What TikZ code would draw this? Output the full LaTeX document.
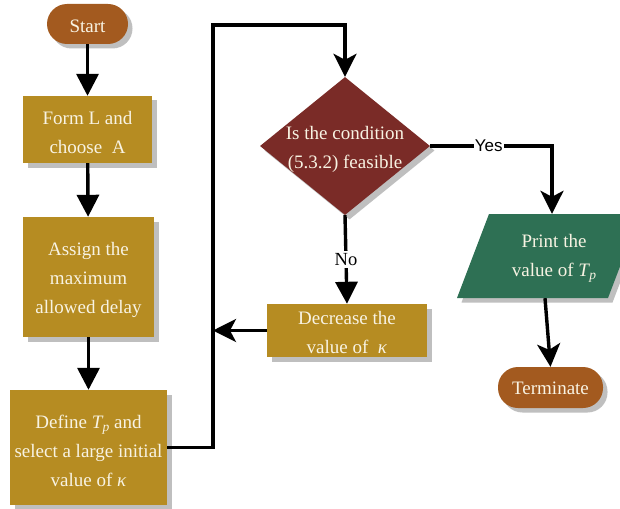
\documentclass[tikz,border=0pt]{standalone}
\usepackage{fontspec}
\setmainfont{Liberation Serif}
\newfontfamily\sansf{Liberation Sans}
\usetikzlibrary{shapes.geometric,shadows,arrows.meta,calc}
\definecolor{gold}{HTML}{B68C22}
\definecolor{sienna}{HTML}{A35A1F}
\definecolor{wine}{HTML}{7A2B27}
\definecolor{pine}{HTML}{2E7054}
\definecolor{cream}{HTML}{F8F3E3}
\newcommand\myTp{\textit{T}\kern-0.04em\raisebox{-0.35ex}{\fontsize{13.5}{13.5}\selectfont\textit{p}}}
\begin{document}
\begin{tikzpicture}[x=1pt,y=-1pt,
  shad/.style={drop shadow={shadow xshift=4.5pt,shadow yshift=-4.5pt,fill=black!25,opacity=1}},
  txt/.style={font=\fontsize{19}{29}\selectfont,text=cream,align=center,inner sep=0pt},
  pill/.style={shad,fill=sienna,rounded corners=20pt,minimum height=40pt,inner sep=0pt},
  gbox/.style={shad,fill=gold,rectangle,inner sep=0pt},
  diam/.style={shad,fill=wine,diamond,minimum width=170pt,minimum height=138pt,inner sep=0pt},
  arrT/.style={line width=3.4pt,-{Triangle[width=22pt,length=22pt]}},
  arrS/.style={line width=3.4pt,-{Stealth[width=23pt,length=23pt,inset=6pt]}},
  yeslab/.style={font=\sansf\fontsize{17}{17}\selectfont,fill=white,inner sep=1pt},
  nolab/.style={font=\fontsize{18.5}{18.5}\selectfont,fill=white,inner sep=2pt}]
\useasboundingbox (0,0) rectangle (620,508);
\fill[white] (0,0) rectangle (620,508);

% shapes
\node[pill,minimum width=81pt] (start) at (87.5,24) {};
\node[gbox,minimum width=129pt,minimum height=67pt] (form) at (87.5,129.5) {};
\node[gbox,minimum width=131pt,minimum height=120pt] (assign) at (88.5,277) {};
\node[gbox,minimum width=157pt,minimum height=115pt] (dfn) at (88.5,447.5) {};
\node[diam] (dia) at (345,146) {};
\node[gbox,minimum width=160pt,minimum height=53pt] (dec) at (347,330.5) {};
\fill[pine,shad] (489,214) -- (640,214) -- (608,298) -- (457,298) -- cycle;
\node[minimum width=100pt,minimum height=84pt,inner sep=0pt] (prn) at (552,256) {};
\node[pill,minimum width=105pt,minimum height=41pt] (term) at (550.5,387.5) {};

% texts
\node[txt] (startT) at ($(start)+(0,2)$) {Start};
\node[txt] (formT) at ($(form)+(0,3)$) {Form L and\\choose\ \ A};
\node[txt] (assignT) at ($(assign)+(0,3)$) {Assign the\\maximum\\allowed delay};
\node[txt] (dfnT) at ($(dfn)+(0,3)$) {Define \myTp\ and\\select a large initial\\value of \textit{κ}};
\node[txt] (diaT) at ($(dia)+(0,3)$) {Is the condition\\(5.3.2) feasible};
\node[txt] (decT) at ($(dec)+(0,2)$) {Decrease the\\value of\ \ \textit{κ}};
\node[txt] (prnT) at ($(prn)+(2,2)$) {Print the\\value of \myTp};
\node[txt] (termT) at ($(term)+(0,1)$) {Terminate};

\coordinate (c1) at (213,25);

% connectors
\draw[arrT] (start) -- (form);
\draw[arrT] (form) -- (assign);
\draw[arrT] (assign) -- (dfn);
\draw[arrS] (dfn.east) -| (c1) -| (dia.north);
\draw[arrT] (dia.south) -- node[nolab]{No} (dec.north);
\draw[arrS] (dec.west) -- (dec.west -| c1);
\draw[arrS] (dia.east) -| node[pos=0.24,yeslab]{Yes} (prn.north);
\draw[arrS] ($(prn.south)+(-7,0)$) -- (term.north);
\end{tikzpicture}
\end{document}
